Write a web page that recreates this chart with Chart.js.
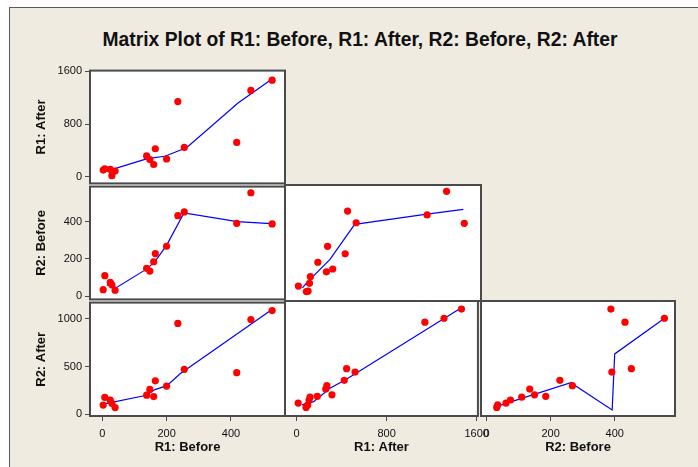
<!DOCTYPE html>
<html><head><meta charset="utf-8">
<script src="https://cdn.jsdelivr.net/npm/chart.js@4.4.0/dist/chart.umd.min.js"></script>
<style>
html,body{margin:0;padding:0;background:#fff;width:698px;height:467px;overflow:hidden;position:relative;}
#frame{position:absolute;left:9px;top:7px;width:700px;height:480px;background:#efebe1;border:1px solid #5a5a5a;}
#title{position:absolute;left:0;width:720px;top:29px;text-align:center;font:bold 19.3px "Liberation Sans",Arial,sans-serif;color:#111;white-space:nowrap;}
canvas{position:absolute;}
</style></head><body>
<div id="frame"></div>
<div id="title">Matrix Plot of R1: Before, R1: After, R2: Before, R2: After</div>
<script>
// ---- data (one entry per observation) ----
const R1_BEFORE = [8, 25, 30, 3, 40, 138, 148, 160, 165, 200, 235, 255, 418, 462, 528];
const R1_AFTER  = [120, 112, 15, 100, 85, 315, 260, 185, 424, 270, 1140, 445, 520, 1310, 1465];
const R2_BEFORE = [110, 75, 61, 35, 32, 150, 135, 185, 229, 268, 432, 452, 391, 555, 388];
const R2_AFTER  = [176, 147, 115, 96, 70, 200, 260, 185, 350, 295, 950, 470, 435, 990, 1085];

// ---- tick labels ----
const R1_BEFORE_TICKS = [0, 200, 400];
const R1_AFTER_TICKS  = [0, 800, 1600];
const R2_BEFORE_TICKS = [0, 200, 400];
const R2_AFTER_TICKS  = [0, 500, 1000];

// ---- smoother (lowess) lines ----
const FIT_R1B_R1A_X = [14, 140, 195, 263, 423, 519];
const FIT_R1B_R1A_Y = [84, 273, 310, 443, 1122, 1452];
const FIT_R1B_R2B_X = [14, 45, 140, 166, 200, 254, 420, 537];
const FIT_R1B_R2B_Y = [61, 47, 148, 191, 273, 447, 400, 388];
const FIT_R1A_R2B_X = [50, 87, 291, 507, 1122, 1457];
const FIT_R1A_R2B_Y = [52, 78, 200, 383, 435, 461];
const FIT_R1B_R2A_X = [3, 138, 164, 201, 242, 522];
const FIT_R1B_R2A_Y = [106, 199, 258, 299, 423, 1083];
const FIT_R1A_R2A_X = [50, 152, 297, 443, 1457];
const FIT_R1A_R2A_Y = [96, 130, 268, 361, 1093];
const FIT_R2B_R2A_X = [37, 263, 392, 400, 551];
const FIT_R2B_R2A_Y = [86, 326, 44, 622, 979];

// ---- layout / style ----
const COL_EDGES = [90, 285, 481, 675];
const ROW_EDGES = [69, 185, 301, 416];
const AXIS_W = 70, AXIS_H = 42;
const FRAME = '#4a4a4a';
const TXT = '#111';
const FAM = '"Liberation Sans", Arial, sans-serif';

const RANGES = {
  r1b: [-38, 568], r1a: [-102, 1611], r2b: [-17, 588], r2a: [-18, 1168]
};

const panelPlugin = {
  id: 'panelFrame',
  beforeDatasetsDraw(chart) {
    const {ctx, chartArea: a} = chart;
    ctx.save(); ctx.fillStyle = '#ffffff';
    ctx.fillRect(a.left, a.top, a.right - a.left, a.bottom - a.top);
    ctx.restore();
  },
  afterDraw(chart) {
    const {ctx, chartArea: a} = chart;
    ctx.save(); ctx.strokeStyle = FRAME; ctx.lineWidth = 2;
    ctx.strokeRect(a.left, a.top, a.right - a.left, a.bottom - a.top);
    ctx.restore();
  }
};

function pts(xs, ys) { return xs.map((x, i) => ({x: x, y: ys[i]})); }

function axis(range, ticks, show, title, pos, size) {
  return {
    type: 'linear', position: pos, min: range[0], max: range[1], display: show,
    afterBuildTicks: s => { s.ticks = ticks.map(v => ({value: v})); },
    afterFit: s => {
      if (!show) { if (pos === 'left') s.width = 0; else s.height = 0; return; }
      if (pos === 'left') s.width = size; else s.height = size;
    },
    ticks: { font: {family: FAM, size: 11}, color: TXT, padding: pos === 'left' ? 3 : 6,
             autoSkip: false, maxRotation: 0, includeBounds: false,
             callback: v => String(v) },
    grid: { display: true, drawOnChartArea: false, drawTicks: true, tickLength: 5, color: FRAME, lineWidth: 1 },
    border: { display: false },
    title: { display: !!title, text: title || '', color: TXT,
             font: {family: FAM, size: 13, weight: 'bold'},
             padding: pos === 'left' ? {top: 14, bottom: 0} : {top: 0, bottom: 3} }
  };
}

function makePanel(p) {
  const L = COL_EDGES[p.col], R = COL_EDGES[p.col + 1];
  const T = ROW_EDGES[p.row], B = ROW_EDGES[p.row + 1];
  const hasY = !!p.yTitle, hasX = !!p.xTitle;
  const padL = hasY ? AXIS_W : 8, padB = hasX ? AXIS_H : 8, padT = 8, padR = 14;
  const w = R - L + padL + padR, h = B - T + padT + padB;
  const cv = document.createElement('canvas');
  cv.width = w; cv.height = h;
  cv.style.left = (L - padL) + 'px'; cv.style.top = (T - padT) + 'px';
  cv.style.width = w + 'px'; cv.style.height = h + 'px';
  document.body.appendChild(cv);
  new Chart(cv, {
    type: 'scatter',
    data: { datasets: [
      { data: pts(p.xs, p.ys), pointRadius: 3.6, pointBackgroundColor: '#ff0000',
        pointBorderWidth: 0, borderWidth: 0, showLine: false, order: 0 },
      { data: pts(p.fx, p.fy), showLine: true, pointRadius: 0, borderColor: '#0000ff',
        borderWidth: 1.2, tension: 0, fill: false, order: 1 }
    ]},
    options: {
      responsive: false, animation: false, devicePixelRatio: 1,
      layout: { autoPadding: false,
                padding: { left: hasY ? 0 : padL, right: padR, top: padT, bottom: hasX ? 0 : padB } },
      plugins: { legend: {display: false}, tooltip: {enabled: false} },
      events: [],
      scales: {
        x: axis(RANGES[p.xv], p.xt, hasX, p.xTitle, 'bottom', padB),
        y: axis(RANGES[p.yv], p.yt, hasY, p.yTitle, 'left', padL)
      }
    },
    plugins: [panelPlugin]
  });
}

makePanel({col: 0, row: 0, xv: 'r1b', yv: 'r1a', xt: R1_BEFORE_TICKS, yt: R1_AFTER_TICKS,
  yTitle: 'R1: After', xs: R1_BEFORE, ys: R1_AFTER, fx: FIT_R1B_R1A_X, fy: FIT_R1B_R1A_Y});
makePanel({col: 0, row: 1, xv: 'r1b', yv: 'r2b', xt: R1_BEFORE_TICKS, yt: R2_BEFORE_TICKS,
  yTitle: 'R2: Before', xs: R1_BEFORE, ys: R2_BEFORE, fx: FIT_R1B_R2B_X, fy: FIT_R1B_R2B_Y});
makePanel({col: 1, row: 1, xv: 'r1a', yv: 'r2b', xt: R1_AFTER_TICKS, yt: R2_BEFORE_TICKS,
  xs: R1_AFTER, ys: R2_BEFORE, fx: FIT_R1A_R2B_X, fy: FIT_R1A_R2B_Y});
makePanel({col: 0, row: 2, xv: 'r1b', yv: 'r2a', xt: R1_BEFORE_TICKS, yt: R2_AFTER_TICKS,
  yTitle: 'R2: After', xTitle: 'R1: Before', xs: R1_BEFORE, ys: R2_AFTER, fx: FIT_R1B_R2A_X, fy: FIT_R1B_R2A_Y});
makePanel({col: 1, row: 2, xv: 'r1a', yv: 'r2a', xt: R1_AFTER_TICKS, yt: R2_AFTER_TICKS,
  xTitle: 'R1: After', xs: R1_AFTER, ys: R2_AFTER, fx: FIT_R1A_R2A_X, fy: FIT_R1A_R2A_Y});
makePanel({col: 2, row: 2, xv: 'r2b', yv: 'r2a', xt: R2_BEFORE_TICKS, yt: R2_AFTER_TICKS,
  xTitle: 'R2: Before', xs: R2_BEFORE, ys: R2_AFTER, fx: FIT_R2B_R2A_X, fy: FIT_R2B_R2A_Y});
</script>
</body></html>
